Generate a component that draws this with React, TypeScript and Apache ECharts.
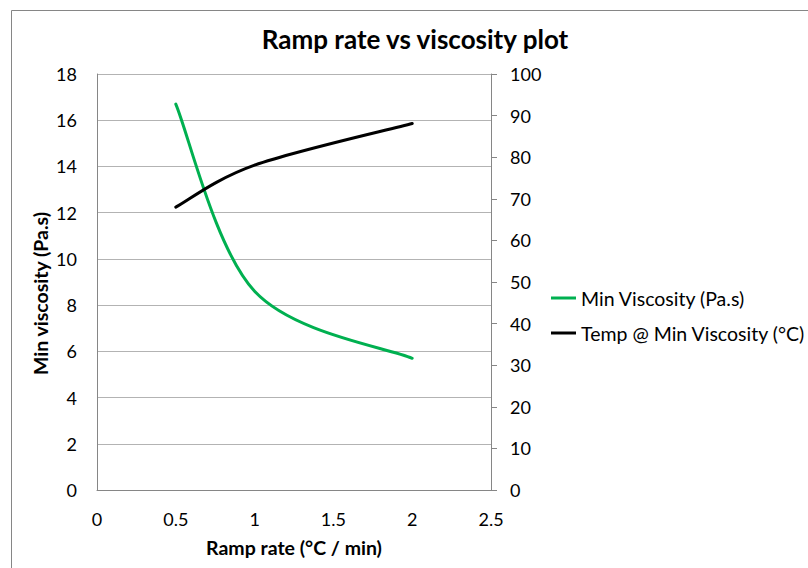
import React, { useEffect, useRef } from "react";
import * as echarts from "echarts";

const rampRates = [0.5, 1, 2];
const minViscosity = [16.7, 8.6, 5.7];
const tempAtMin = [68, 78.1, 88.1];

const titleText = "Ramp rate vs viscosity plot";
const seriesNames = ["Min Viscosity (Pa.s)", "Temp @ Min Viscosity (°C)"];
const xAxisName = "Ramp rate (°C / min)";
const yAxisName = "Min viscosity (Pa.s)";

const FONT = "Lato, 'Open Sans', sans-serif";

// Excel-like smoothed line (Catmull-Rom Bezier in pixel space) through points mapped by the axes
function makeRenderItem(data: number[][], color: string) {
  return (params: any, api: any) => {
    if (params.dataIndex !== 0) return null;
    const pts = data.map((d) => api.coord([d[0], d[1]]));
    const m = pts.length;
    let d = `M${pts[0][0]},${pts[0][1]}`;
    for (let i = 0; i < m - 1; i++) {
      const p0 = pts[Math.max(i - 1, 0)];
      const p1 = pts[i];
      const p2 = pts[i + 1];
      const p3 = pts[Math.min(i + 2, m - 1)];
      const c1x = p1[0] + (p2[0] - p0[0]) / 6;
      const c1y = p1[1] + (p2[1] - p0[1]) / 6;
      const c2x = p2[0] - (p3[0] - p1[0]) / 6;
      const c2y = p2[1] - (p3[1] - p1[1]) / 6;
      d += ` C${c1x},${c1y} ${c2x},${c2y} ${p2[0]},${p2[1]}`;
    }
    return {
      type: "path",
      shape: { pathData: d },
      style: { fill: "none", stroke: color, lineWidth: 3, lineCap: "round", lineJoin: "round" },
    };
  };
}

export default function App() {
  const ref = useRef<HTMLDivElement>(null);
  useEffect(() => {
    if (!ref.current) return;
    const chart = echarts.init(ref.current, undefined, { renderer: "svg" });
    const visData = rampRates.map((x, i) => [x, minViscosity[i]]);
    const tempData = rampRates.map((x, i) => [x, tempAtMin[i]]);
    chart.setOption({
      animation: false,
      backgroundColor: "#ffffff",
      textStyle: { fontFamily: FONT },
      title: {
        text: titleText,
        left: 410,
        top: 21,
        textAlign: "center",
        textStyle: { fontFamily: FONT, fontWeight: "bold", fontSize: 26, color: "#000" },
      },
      graphic: [
        {
          type: "rect",
          shape: { x: 11.5, y: 10.5, width: 900, height: 700 },
          style: { fill: "none", stroke: "#868686", lineWidth: 1 },
          silent: true,
          z: -10,
        },
      ],
      legend: {
        orient: "vertical",
        left: 546,
        top: 283,
        itemWidth: 25,
        itemHeight: 3,
        itemGap: 15,
        icon: "rect",
        textStyle: { fontFamily: FONT, fontSize: 19.5, color: "#000" },
        data: seriesNames,
      },
      grid: { left: 97, right: 317, top: 74, bottom: 78, containLabel: false },
      xAxis: {
        type: "value",
        min: 0,
        max: 2.5,
        interval: 0.5,
        name: xAxisName,
        nameLocation: "middle",
        nameGap: 47,
        nameTextStyle: { fontFamily: FONT, fontWeight: "bold", fontSize: 19.5, color: "#000" },
        axisLine: { show: true, lineStyle: { color: "#868686", width: 1 } },
        axisTick: { show: false },
        splitLine: { show: false },
        axisLabel: { fontFamily: FONT, fontSize: 18, color: "#000", margin: 20 },
      },
      yAxis: [
        {
          type: "value",
          min: 0,
          max: 18,
          interval: 2,
          position: "left",
          name: yAxisName,
          nameLocation: "middle",
          nameRotate: 90,
          nameGap: 47,
          nameTextStyle: {
            fontFamily: FONT,
            fontWeight: "bold",
            fontSize: 19.5,
            color: "#000",
            padding: [0, 23, 0, 0],
          },
          axisLine: { show: true, lineStyle: { color: "#868686", width: 1 } },
          axisTick: { show: false },
          splitLine: { show: true, lineStyle: { color: "#b3b3b3", width: 1 } },
          axisLabel: { fontFamily: FONT, fontSize: 18, color: "#000", margin: 20 },
        },
        {
          type: "value",
          min: 0,
          max: 100,
          interval: 10,
          position: "right",
          axisLine: { show: true, lineStyle: { color: "#868686", width: 1 } },
          axisTick: { show: true, length: 6, lineStyle: { color: "#868686" } },
          splitLine: { show: false },
          axisLabel: { fontFamily: FONT, fontSize: 18, color: "#000", margin: 19 },
        },
      ],
      series: [
        {
          name: seriesNames[0],
          type: "custom",
          yAxisIndex: 0,
          data: visData,
          encode: { x: 0, y: 1 },
          renderItem: makeRenderItem(visData, "#00b050"),
          itemStyle: { color: "#00b050" },
          clip: true,
        },
        {
          name: seriesNames[1],
          type: "custom",
          yAxisIndex: 1,
          data: tempData,
          encode: { x: 0, y: 1 },
          renderItem: makeRenderItem(tempData, "#000000"),
          itemStyle: { color: "#000000" },
          clip: true,
        },
      ],
    });
    return () => chart.dispose();
  }, []);
  return <div ref={ref} style={{ width: 808, height: 568, position: "absolute", left: 0, top: 0 }} />;
}
